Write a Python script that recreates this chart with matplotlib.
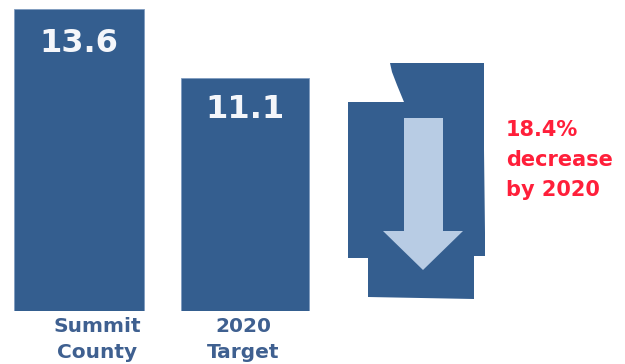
import matplotlib
matplotlib.use('Agg')
import matplotlib.pyplot as plt
from matplotlib.patches import Polygon

# Wartosci slupkow
kategorie = ['Summit\nCounty', '2020\nTarget']
wartosci = [13.6, 11.1]
etykiety = ['13.6', '11.1']
opis = '18.4%\ndecrease\nby 2020'

# Kontur ksztaltu hrabstwa i strzalka (w pikselach)
kontur_x = [390, 484, 484, 485, 485, 474, 474, 368, 368, 348, 348, 404, 397, 392]
kontur_y = [63, 63, 150, 233, 256, 256, 299, 297, 258, 258, 102, 102, 85, 72]
strzalka_x = [404, 443, 443, 463, 423, 383, 404]
strzalka_y = [118, 118, 231, 231, 270, 231, 231]

niebieski = '#345e8f'
szer, wys = 625, 364

fig = plt.figure(figsize=(szer / 100, wys / 100), dpi=100)

# Warstwa pikselowa na ksztalt i teksty
tlo = fig.add_axes([0, 0, 1, 1])
tlo.set_xlim(0, szer)
tlo.set_ylim(wys, 0)
tlo.axis('off')

# Slupki: os y nie zaczyna sie od zera
ax = fig.add_axes([0, (wys - 311) / wys, 1, 302 / wys])
ax.patch.set_alpha(0)
ax.set_xlim(0, szer)
ax.set_ylim(2.66, 13.6)
ax.axis('off')
srodki = [79, 245]
szerokosci = [130, 128]
ax.bar(srodki, wartosci, width=szerokosci, color=niebieski, edgecolor='#7f9cc0', linewidth=0.6)

# Wartosci na slupkach
for x, w, e, przes in zip(srodki, wartosci, etykiety, [-24.5, -23]):
    ax.annotate(e, (x, w), xytext=(0, przes), textcoords='offset points', ha='center', va='center',
                color='#f4f6fa', fontsize=23, fontweight='bold', annotation_clip=False)

# Nazwy kategorii
for x, nazwa in zip([97, 243], kategorie):
    gora, dol = nazwa.split('\n')
    tlo.text(x, 326, gora, ha='center', va='center', fontsize=14.5, fontweight='bold', color='#3f6090')
    tlo.text(x, 353, dol, ha='center', va='center', fontsize=14.5, fontweight='bold', color='#3f6090')

# Ksztalt ze strzalka
tlo.add_patch(Polygon(list(zip(kontur_x, kontur_y)), closed=True, facecolor=niebieski, edgecolor='none'))
tlo.add_patch(Polygon(list(zip(strzalka_x, strzalka_y)), closed=True, facecolor='#b8cce4', edgecolor='none'))

# Opis spadku
tlo.text(506, 160, opis, ha='left', va='center', color='#ff1f3a', fontsize=15, fontweight='bold', linespacing=1.6)

fig.savefig('out.png', dpi=100)
